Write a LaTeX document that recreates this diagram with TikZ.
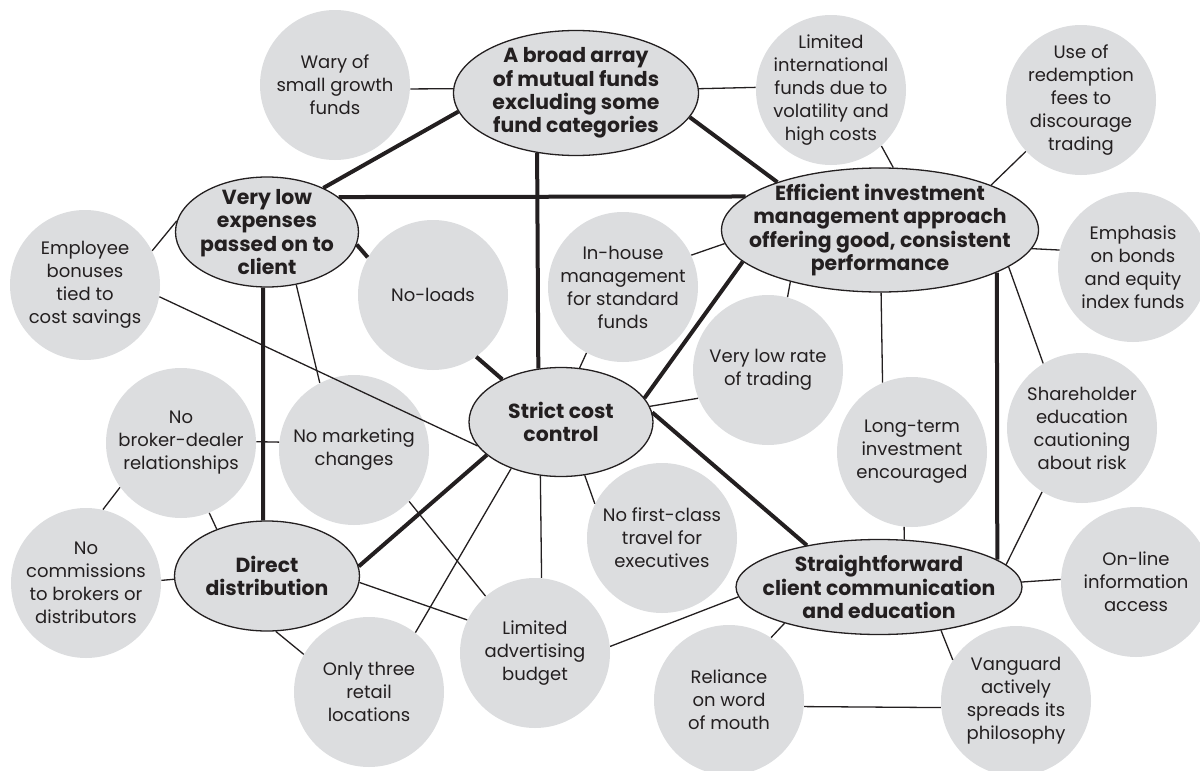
\documentclass[tikz,border=0pt]{standalone}
\usepackage{fontspec}
\setmainfont{Poppins}
\usetikzlibrary{shapes.geometric}
\definecolor{bubble}{RGB}{220,221,223}
\definecolor{ink}{RGB}{35,31,32}
\tikzset{
  idea/.style={circle, fill=bubble, minimum size=75pt, inner sep=-4pt, align=center, text=ink, font=\fontsize{9}{11.5}\selectfont},
  hub/.style={ellipse, draw=ink, line width=0.65pt, fill=bubble, inner sep=0pt},
  hubtext/.style={align=center, text=ink, font=\fontsize{10.2}{11.6}\selectfont\bfseries},
  link/.style={draw=ink, line width=0.65pt},
  strong/.style={draw=ink, line width=2pt}
}
\begin{document}
\begin{tikzpicture}[x=0.5pt,y=-0.5pt]
\useasboundingbox (0,0) rectangle (1200,771);
%% hubs
\node[hub, minimum width=122.5pt, minimum height=62.5pt] (broad) at (576,93) {};
\node[hubtext] (broadtxt) at (broad) {A broad array\\of mutual funds\\excluding some\\fund categories};
\node[hub, minimum width=91.5pt, minimum height=55pt] (vle) at (267,232) {};
\node[hubtext] (vletxt) at (vle) {Very low\\expenses\\passed on to\\client};
\node[hub, minimum width=158.5pt, minimum height=62pt] (eff) at (880,230) {};
\node[hubtext] (efftxt) at (eff) {Efficient investment\\management approach\\offering good, consistent\\performance};
\node[hub, minimum width=92pt, minimum height=54.5pt] (strict) at (561,422) {};
\node[hubtext] (stricttxt) at (strict) {Strict cost\\control};
\node[hub, minimum width=92.5pt, minimum height=55pt] (direct) at (267,576) {};
\node[hubtext] (directtxt) at (direct) {Direct\\distribution};
\node[hub, minimum width=143pt, minimum height=47.5pt] (straight) at (879,587) {};
\node[hubtext] (straighttxt) at (straight) {Straightforward\\client communication\\and education};

%% activities
\node[idea] (wary) at (335,85) {Wary of\\small growth\\funds};
\node[idea] (limintl) at (831,90) {Limited\\international\\funds due to\\volatility and\\high costs};
\node[idea] (use) at (1081,100) {Use of\\redemption\\fees to\\discourage\\trading};
\node[idea] (emphasis) at (1133,267) {Emphasis\\on bonds\\and equity\\index funds};
\node[idea] (employee) at (85,285) {Employee\\bonuses\\tied to\\cost savings};
\node[idea] (noloads) at (433,295) {No-loads};
\node[idea] (inhouse) at (623,287) {In-house\\management\\for standard\\funds};
\node[idea] (vlr) at (768,370) {Very low rate\\of trading};
\node[idea] (longterm) at (912,452) {Long-term\\investment\\encouraged};
\node[idea] (shareholder) at (1082,428) {Shareholder\\education\\cautioning\\about risk};
\node[idea] (broker) at (181,443) {No\\broker-dealer\\relationships};
\node[idea] (nomkt) at (354,450) {No marketing\\changes};
\node[idea] (commissions) at (86,583) {No\\commissions\\to brokers or\\distributors};
\node[idea] (firstclass) at (662,538) {No first-class\\travel for\\executives};
\node[idea] (online) at (1136,582) {On-line\\information\\access};
\node[idea] (only3) at (369,692) {Only three\\retail\\locations};
\node[idea] (limadv) at (535,653) {Limited\\advertising\\budget};
\node[idea] (reliance) at (729,700) {Reliance\\on word\\of mouth};
\node[idea] (vanguard) at (1016,701) {Vanguard\\actively\\spreads its\\philosophy};

%%% thick edges
\draw[strong] (vle.38) -- (broad.189);
\draw[strong] (broad.348) -- (eff.155);
\draw[strong] (vle.26) -- (eff.166);
\draw[strong] (broad.237) -- (strict.113);
\draw[strong] (vle.352) -- (noloads.150);
\draw[strong] (noloads.305) -- (strict.144);
\draw[strong] (vle.266) -- (direct.94);
\draw[strong] (direct.6) -- (strict.204);
\draw[strong] (strict.16) -- (eff.193);
\draw[strong] (strict.6) -- (straight.150);
\draw[strong] (eff.340) -- (straight.13);

%%% thin edges
\draw[link] (wary.357) -- (broad.178);
\draw[link] (broad.2) -- (limintl.178);
\draw[link] (limintl.312) -- (eff.78);
\draw[link] (use.223) -- (eff.22);
\draw[link] (emphasis.167) -- (eff.353);
\draw[link] (eff.344) -- (shareholder.121);
\draw[link] (inhouse.25) -- (eff.185);
\draw[link] (vlr.75) -- (eff.210);
\draw[link] (eff.271) -- (longterm.113);
\draw[link] (longterm.264) -- (straight.62);
\draw[link] (shareholder.238) -- (straight.10);
\draw[link] (straight.2) -- (online.178);
\draw[link] (straight.325) -- (vanguard.147);
\draw[link] (reliance.56) -- (straight.201);
\draw[link] (reliance.355) -- (vanguard.185);
\draw[link] (limadv.5) -- (straight.184);
\draw[link] (employee.27) -- (vle.173);
\draw[link] (employee.351) -- (strict.196);
\draw[link] (vle.299) -- (nomkt.117);
\draw[link] (broker.1) -- (nomkt.174);
\draw[link] (broker.216) -- (commissions.77);
\draw[link] (direct.137) -- (broker.292);
\draw[link] (commissions.2) -- (direct.182);
\draw[link] (direct.279) -- (only3.150);
\draw[link] (direct.356) -- (limadv.154);
\draw[link] (nomkt.317) -- (limadv.131);
\draw[link] (only3.52) -- (strict.223);
\draw[link] (strict.249) -- (limadv.85);
\draw[link] (strict.294) -- (firstclass.153);
\draw[link] (inhouse.241) -- (strict.71);
\draw[link] (strict.10) -- (vlr.202);
\end{tikzpicture}
\end{document}
